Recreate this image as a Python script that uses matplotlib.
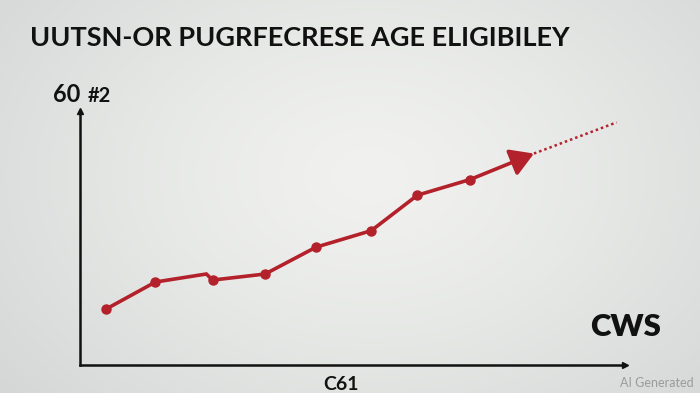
import numpy as np
import matplotlib
matplotlib.use("Agg")
import matplotlib.pyplot as plt

# ---- data ----
line_x = [0.5, 1.45, 2.43, 2.55, 3.56, 4.54, 5.6, 6.49, 7.5]
line_y = [12.9, 19.15, 21.0, 19.6, 21.0, 27.2, 31.0, 39.2, 42.8]
marker_x = [0.5, 1.45, 2.55, 3.56, 4.54, 5.6, 6.49, 7.5]
marker_y = [12.9, 19.15, 19.6, 21.0, 27.2, 31.0, 39.2, 42.8]
arrow_tip = (8.73, 48.8)
proj_x = [8.73, 10.32]
proj_y = [48.8, 56.0]

title = "UUTSN-OR PUGRFECRESE AGE ELIGIBILEY"
y_label_main = "60"
y_label_sub = "#2"
x_label = "C61"
side_label = "CWS"
watermark = "AI Generated"

RED = "#b3212a"
W, H = 700, 393

fig = plt.figure(figsize=(7, 3.93), dpi=100)

# background radial gradient
bg = fig.add_axes([0, 0, 1, 1])
yy, xx = np.mgrid[0:H, 0:W]
r = np.sqrt(((xx - 370) / 420.0) ** 2 + ((yy - 175) / 300.0) ** 2)
r = np.clip(r, 0, 1.2)
c0 = np.array([0xf1, 0xf2, 0xf0]) / 255.0
c1 = np.array([0xd2, 0xd5, 0xd4]) / 255.0
t = (r / 1.2)[..., None] ** 1.3
img = c0 * (1 - t) + c1 * t
bg.imshow(img, extent=[0, W, H, 0], aspect="auto", interpolation="bilinear")
bg.set_xlim(0, W); bg.set_ylim(H, 0)
bg.axis("off")

# main axes: x 80..625 px, y 365..110.7 px
left, right, bottom, top = 80, 625, 365, 110.7
ax = fig.add_axes([left / W, 1 - bottom / H, (right - left) / W, (bottom - top) / H])
ax.patch.set_alpha(0)
ax.set_xlim(0, (right - left) / 52.0)
ax.set_ylim(0, (bottom - top) / 4.333)
for s in ["top", "right"]:
    ax.spines[s].set_visible(False)
for s in ["left", "bottom"]:
    ax.spines[s].set_linewidth(1.8)
    ax.spines[s].set_color("#111111")
ax.set_xticks([]); ax.set_yticks([])
ax.plot(1, 0, marker=">", color="#111111", ms=4, transform=ax.transAxes, clip_on=False)
ax.plot(0, 1, marker="^", color="#111111", ms=4, transform=ax.transAxes, clip_on=False)

ax.plot(line_x, line_y, color=RED, lw=2.6, solid_joinstyle="miter", zorder=3)
ax.plot(marker_x, marker_y, "o", color=RED, ms=6.5, zorder=4)
ax.annotate("", xy=arrow_tip, xytext=(line_x[-1], line_y[-1]),
            arrowprops=dict(arrowstyle="-|>,head_length=0.7,head_width=0.42",
                            color=RED, lw=2.6, shrinkA=0, shrinkB=0,
                            mutation_scale=20), zorder=4)
ax.plot(proj_x, proj_y, color=RED, lw=1.8, ls=(0, (1, 1.2)), zorder=3)

def px(x, y):
    return x / W, 1 - y / H

fig.text(*px(30, 46), title, fontsize=19.5, fontweight="bold", family="Lato",
         color="#111111", va="baseline", ha="left")
fig.text(*px(53, 102), y_label_main, fontsize=17, fontweight="bold", family="Lato",
         color="#111111", va="baseline", ha="left")
fig.text(*px(88, 102), y_label_sub, fontsize=14.5, fontweight="bold", family="Lato",
         color="#111111", va="baseline", ha="left")
fig.text(*px(341, 389.5), x_label, fontsize=14, fontweight="bold", family="Lato",
         color="#111111", va="baseline", ha="center")
fig.text(*px(590, 336.5), side_label, fontsize=22.5, fontweight="heavy", family="Lato",
         color="#111111", va="baseline", ha="left")
fig.text(*px(694, 387), watermark, fontsize=9, family="Lato",
         color="#9a9c9b", va="baseline", ha="right")

fig.savefig("out.png", dpi=100)
